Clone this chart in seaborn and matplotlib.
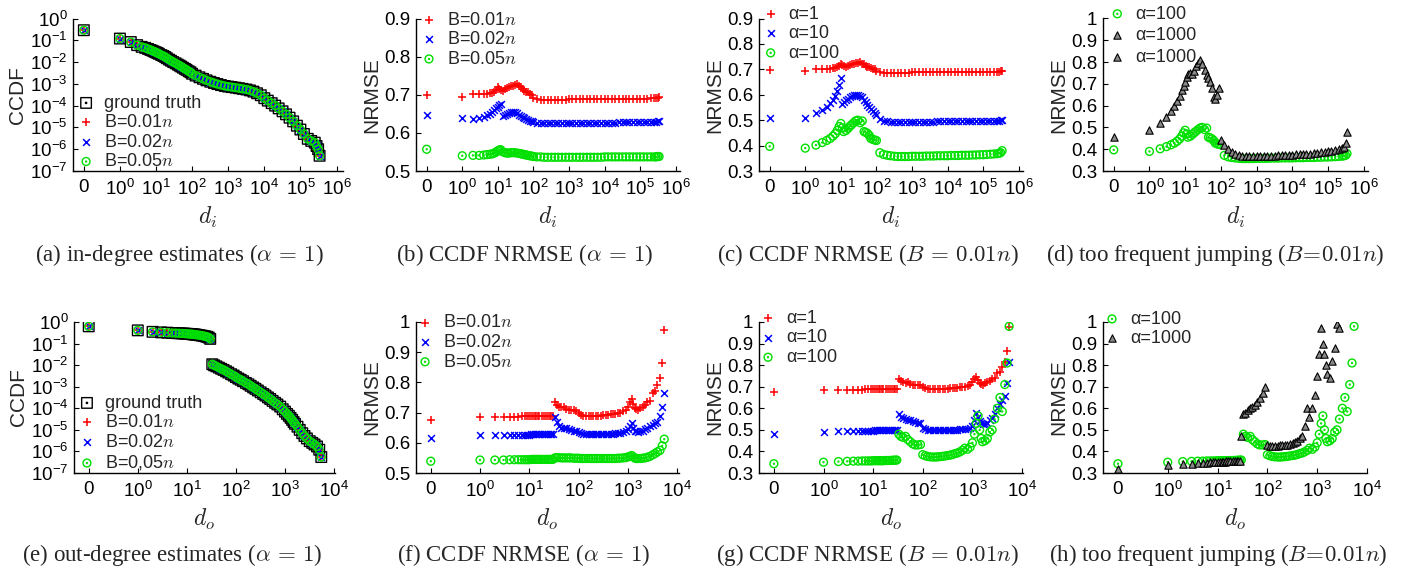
import numpy as np
import pandas as pd
import matplotlib
matplotlib.use("Agg")
import matplotlib.pyplot as plt
import seaborn as sns
from matplotlib.path import Path
from matplotlib.ticker import FixedLocator, FixedFormatter, NullLocator

# ---------------- data ----------------
deg_in = [0, 1, 2, 3, 4, 5, 6, 7, 8, 9, 10,
          11, 12, 14, 16, 18, 20, 23, 26, 30, 35, 40, 45, 50, 56, 63, 70, 80, 90, 100,
          125, 160, 200, 250, 320, 400, 500, 630, 800, 1000,
          1250, 1600, 2000, 2500, 3200, 4000, 5000, 6300, 8000, 10000,
          12500, 16000, 20000, 25000, 32000, 40000, 50000, 63000, 80000, 100000,
          125000, 160000, 200000, 250000, 280000, 310000, 340000]

ccdf_in_truth = [0.29, 0.12, 0.083, 0.06, 0.05, 0.045, 0.04, 0.036, 0.033, 0.03, 0.028,
                 0.026, 0.024, 0.021, 0.019, 0.017, 0.015, 0.013, 0.0115, 0.010, 0.0088, 0.0077, 0.0069, 0.0062, 0.0055, 0.0049, 0.0044, 0.0038, 0.0034, 0.0029,
                 0.0024, 0.0020, 0.0017, 0.00145, 0.00125, 0.0011, 0.00098, 0.00088, 0.0008, 0.00075,
                 0.00071, 0.00067, 0.00063, 0.00059, 0.00055, 0.0005, 0.00044, 0.00037, 0.0003, 0.00022,
                 0.00017, 0.00013, 1.0e-4, 7.5e-5, 5.5e-5, 4.0e-5, 2.8e-5, 1.9e-5, 1.2e-5, 8.0e-6,
                 5.0e-6, 3.0e-6, 2.4e-6, 2.0e-6, 1.4e-6, 1.0e-6, 5.0e-7]

nrmse_in_b001 = [0.699, 0.693, 0.702, 0.702, 0.703, 0.703, 0.704, 0.705, 0.708, 0.712, 0.720,
                 0.716, 0.712, 0.710, 0.714, 0.717, 0.720, 0.722, 0.724, 0.726, 0.728, 0.722, 0.720, 0.715, 0.710, 0.708, 0.706, 0.703, 0.700, 0.692,
                 0.688, 0.686, 0.686, 0.686, 0.686, 0.687, 0.687, 0.687, 0.687, 0.688,
                 0.688, 0.688, 0.688, 0.688, 0.688, 0.688, 0.689, 0.689, 0.689, 0.689,
                 0.689, 0.689, 0.689, 0.689, 0.690, 0.690, 0.690, 0.690, 0.690, 0.690,
                 0.690, 0.690, 0.691, 0.691, 0.691, 0.692, 0.693]

nrmse_in_b002 = [0.648, 0.640, 0.637, 0.638, 0.642, 0.646, 0.650, 0.655, 0.660, 0.665, 0.668,
                 0.672, 0.676, 0.645, 0.648, 0.650, 0.652, 0.654, 0.655, 0.655, 0.652, 0.648, 0.645, 0.642, 0.638, 0.636, 0.634, 0.632, 0.630, 0.628,
                 0.627, 0.627, 0.626, 0.626, 0.626, 0.626, 0.626, 0.626, 0.627, 0.627,
                 0.627, 0.627, 0.627, 0.627, 0.627, 0.627, 0.627, 0.627, 0.627, 0.627,
                 0.627, 0.627, 0.627, 0.628, 0.628, 0.628, 0.628, 0.628, 0.628, 0.628,
                 0.628, 0.628, 0.629, 0.629, 0.629, 0.630, 0.631]

nrmse_in_b005 = [0.557, 0.540, 0.541, 0.541, 0.542, 0.543, 0.544, 0.545, 0.547, 0.550, 0.553,
                 0.555, 0.556, 0.550, 0.548, 0.547, 0.547, 0.548, 0.548, 0.548, 0.547, 0.546, 0.545, 0.544, 0.543, 0.542, 0.541, 0.540, 0.539, 0.538,
                 0.537, 0.537, 0.536, 0.536, 0.536, 0.536, 0.536, 0.536, 0.536, 0.536,
                 0.536, 0.536, 0.536, 0.536, 0.536, 0.536, 0.536, 0.536, 0.536, 0.537,
                 0.537, 0.537, 0.537, 0.537, 0.537, 0.537, 0.537, 0.537, 0.537, 0.537,
                 0.537, 0.537, 0.537, 0.537, 0.537, 0.538, 0.538]

nrmse_in_a10 = [0.510, 0.510, 0.528, 0.540, 0.553, 0.567, 0.580, 0.595, 0.615, 0.640, 0.665,
                0.565, 0.570, 0.578, 0.585, 0.590, 0.595, 0.598, 0.600, 0.598, 0.595, 0.590, 0.580, 0.570, 0.560, 0.553, 0.545, 0.535, 0.530, 0.520,
                0.505, 0.498, 0.495, 0.494, 0.494, 0.494, 0.494, 0.494, 0.494, 0.494,
                0.494, 0.494, 0.494, 0.494, 0.494, 0.494, 0.495, 0.495, 0.495, 0.495,
                0.495, 0.495, 0.495, 0.495, 0.495, 0.496, 0.496, 0.496, 0.496, 0.496,
                0.496, 0.497, 0.497, 0.497, 0.498, 0.499, 0.500]

nrmse_in_a100 = [0.397, 0.390, 0.402, 0.412, 0.420, 0.428, 0.437, 0.447, 0.460, 0.475, 0.487,
                 0.470, 0.455, 0.460, 0.468, 0.476, 0.482, 0.490, 0.497, 0.500, 0.490, 0.497, 0.455, 0.452, 0.448, 0.440, 0.428, 0.424, 0.422, 0.420,
                 0.372, 0.365, 0.362, 0.360, 0.358, 0.357, 0.357, 0.357, 0.357, 0.358,
                 0.358, 0.358, 0.358, 0.359, 0.359, 0.359, 0.360, 0.360, 0.360, 0.360,
                 0.361, 0.361, 0.361, 0.362, 0.362, 0.362, 0.363, 0.363, 0.364, 0.364,
                 0.365, 0.366, 0.367, 0.368, 0.370, 0.372, 0.380]

nrmse_in_a1000 = [0.455, 0.490, 0.520, 0.550, 0.575, 0.600, 0.620, 0.645, 0.670, 0.690, 0.710,
                  0.730, 0.745, 0.750, 0.745, 0.760, 0.780, 0.795, 0.810, 0.790, 0.765, 0.740, 0.725, 0.710, 0.680, 0.640, 0.630, 0.650, 0.680, 0.440,
                  0.420, 0.400, 0.385, 0.378, 0.372, 0.370, 0.368, 0.368, 0.368, 0.368,
                  0.369, 0.369, 0.370, 0.370, 0.371, 0.372, 0.372, 0.373, 0.374, 0.375,
                  0.376, 0.377, 0.378, 0.379, 0.380, 0.382, 0.384, 0.386, 0.388, 0.390,
                  0.392, 0.395, 0.400, 0.405, 0.410, 0.430, 0.480]

deg_out = [0, 1, 2, 3, 4, 5, 6, 7, 8, 9, 10, 11, 12, 13, 14, 15, 16, 18, 20, 22, 24, 26, 28, 30,
           33, 36, 40, 45, 50, 56, 63, 70, 80, 90, 100,
           112, 125, 140, 160, 180, 200, 225, 250, 280, 320, 360, 400, 450, 500, 560, 630, 700, 800, 900, 1000,
           1100, 1200, 1300, 1400, 1500, 1600, 1800, 2000, 2250, 2500, 2800, 3200, 3600, 4000, 4500, 5000, 5500]

ccdf_out_truth = [0.63, 0.41, 0.35, 0.33, 0.32, 0.31, 0.305, 0.30, 0.295, 0.29, 0.285, 0.28, 0.275, 0.27, 0.265, 0.26, 0.255, 0.245, 0.235, 0.225, 0.215, 0.205, 0.19, 0.165,
                  0.011, 0.0098, 0.0088, 0.0077, 0.0068, 0.006, 0.0052, 0.0045, 0.0038, 0.0033, 0.0028,
                  0.0024, 0.0021, 0.0018, 0.0015, 0.0013, 0.0011, 0.00093, 0.0008, 0.00067, 0.00055, 0.00046, 0.00039, 0.00032, 0.00027, 0.00022, 0.00018, 0.00015, 0.00012, 9.0e-5, 7.0e-5,
                  5.5e-5, 4.5e-5, 3.6e-5, 2.9e-5, 2.3e-5, 1.9e-5, 1.4e-5, 1.0e-5, 7.0e-6, 5.2e-6, 4.0e-6, 3.0e-6, 2.5e-6, 2.1e-6, 1.7e-6, 1.2e-6, 5.5e-7]

nrmse_out_b001 = [0.675, 0.685, 0.686, 0.686, 0.687, 0.687, 0.687, 0.688, 0.688, 0.688, 0.688, 0.688, 0.688, 0.688, 0.688, 0.688, 0.688, 0.688, 0.688, 0.688, 0.688, 0.688, 0.688, 0.689,
                  0.735, 0.725, 0.720, 0.718, 0.720, 0.712, 0.710, 0.710, 0.708, 0.706, 0.700,
                  0.692, 0.690, 0.689, 0.689, 0.689, 0.690, 0.690, 0.690, 0.690, 0.691, 0.692, 0.693, 0.694, 0.695, 0.697, 0.699, 0.700, 0.705, 0.710, 0.720,
                  0.735, 0.745, 0.730, 0.715, 0.712, 0.710, 0.715, 0.720, 0.725, 0.735, 0.740, 0.765, 0.770, 0.790, 0.815, 0.865, 0.975]

nrmse_out_b002 = [0.617, 0.625, 0.625, 0.626, 0.626, 0.626, 0.627, 0.627, 0.627, 0.627, 0.627, 0.628, 0.628, 0.628, 0.628, 0.628, 0.628, 0.628, 0.628, 0.628, 0.628, 0.628, 0.628, 0.629,
                  0.685, 0.670, 0.655, 0.650, 0.650, 0.648, 0.645, 0.642, 0.640, 0.638, 0.635,
                  0.632, 0.630, 0.630, 0.630, 0.630, 0.630, 0.630, 0.630, 0.630, 0.630, 0.630, 0.630, 0.630, 0.630, 0.631, 0.632, 0.633, 0.635, 0.640, 0.645,
                  0.655, 0.665, 0.650, 0.640, 0.638, 0.637, 0.638, 0.640, 0.645, 0.650, 0.655, 0.660, 0.665, 0.670, 0.690, 0.720, 0.765]

nrmse_out_b005 = [0.539, 0.543, 0.543, 0.543, 0.544, 0.544, 0.544, 0.544, 0.544, 0.544, 0.544, 0.545, 0.545, 0.545, 0.545, 0.545, 0.545, 0.545, 0.545, 0.545, 0.545, 0.545, 0.545, 0.545,
                  0.550, 0.551, 0.551, 0.550, 0.550, 0.550, 0.550, 0.550, 0.549, 0.549, 0.549,
                  0.548, 0.548, 0.548, 0.548, 0.548, 0.548, 0.548, 0.548, 0.548, 0.548, 0.548, 0.548, 0.548, 0.548, 0.548, 0.549, 0.549, 0.550, 0.551, 0.553,
                  0.555, 0.558, 0.553, 0.549, 0.548, 0.548, 0.548, 0.549, 0.550, 0.552, 0.555, 0.560, 0.565, 0.570, 0.575, 0.590, 0.612]

nrmse_out_a10 = [0.483, 0.490, 0.493, 0.495, 0.496, 0.496, 0.497, 0.497, 0.497, 0.497, 0.497, 0.498, 0.498, 0.498, 0.498, 0.498, 0.498, 0.499, 0.499, 0.499, 0.499, 0.500, 0.500, 0.500,
                 0.575, 0.560, 0.555, 0.550, 0.548, 0.545, 0.540, 0.535, 0.532, 0.530, 0.510,
                 0.505, 0.500, 0.500, 0.500, 0.500, 0.500, 0.500, 0.500, 0.500, 0.500, 0.500, 0.500, 0.500, 0.500, 0.503, 0.503, 0.503, 0.503, 0.508, 0.520,
                 0.545, 0.580, 0.560, 0.540, 0.530, 0.525, 0.525, 0.530, 0.545, 0.555, 0.575, 0.600, 0.620, 0.640, 0.655, 0.715, 0.815]

nrmse_out_a100 = [0.343, 0.350, 0.353, 0.354, 0.355, 0.355, 0.356, 0.356, 0.356, 0.356, 0.357, 0.357, 0.357, 0.357, 0.357, 0.357, 0.357, 0.358, 0.358, 0.358, 0.359, 0.359, 0.360, 0.360,
                  0.480, 0.470, 0.465, 0.470, 0.455, 0.445, 0.435, 0.430, 0.430, 0.432, 0.385,
                  0.380, 0.377, 0.375, 0.374, 0.374, 0.375, 0.376, 0.377, 0.379, 0.381, 0.383, 0.386, 0.390, 0.393, 0.398, 0.405, 0.415, 0.410, 0.420, 0.440,
                  0.480, 0.530, 0.565, 0.500, 0.460, 0.445, 0.450, 0.460, 0.490, 0.500, 0.550, 0.600, 0.650, 0.585, 0.710, 0.810, 0.980]

nan = float("nan")
nrmse_out_a1000 = [0.320, 0.338, 0.342, 0.344, 0.346, 0.347, 0.348, 0.349, 0.350, 0.351, 0.352, 0.352, 0.353, 0.353, 0.353, 0.354, 0.354, 0.355, 0.355, 0.355, 0.355, 0.355, 0.355, 0.470,
                   0.575, 0.580, 0.590, 0.600, 0.605, 0.615, 0.630, 0.650, 0.670, 0.700, 0.430,
                   0.425, 0.425, 0.426, 0.427, 0.428, 0.429, 0.430, 0.432, 0.435, 0.440, 0.445, 0.450, 0.460, 0.470, 0.520, 0.600, 0.560, 0.600, 0.660, 0.750,
                   0.850, 0.970, 0.900, 0.850, 0.800, 0.760, 0.740, 0.820, 0.880, 0.990, 0.970, nan, nan, nan, nan, nan, nan]

captions = ["(a) in-degree estimates ($\\alpha\\,=\\,1$)",
            "(b) CCDF NRMSE ($\\alpha\\,=\\,1$)",
            "(c) CCDF NRMSE ($B\\,=\\,0.01n$)",
            "(d) too frequent jumping ($B\\!=\\!0.01n$)",
            "(e) out-degree estimates ($\\alpha\\,=\\,1$)",
            "(f) CCDF NRMSE ($\\alpha\\,=\\,1$)",
            "(g) CCDF NRMSE ($B\\,=\\,0.01n$)",
            "(h) too frequent jumping ($B\\!=\\!0.01n$)"]

# ---------------- style ----------------
sns.set_theme(style="ticks")
plt.rcParams["font.family"] = ["Liberation Sans", "DejaVu Sans"]
plt.rcParams["mathtext.fontset"] = "cm"

RED, BLUE, GREEN = "#ff0000", "#0000ff", "#00e000"

circ = Path.unit_circle()
odot = Path.make_compound_path(circ, Path.circle((0, 0), 0.12))
sq = Path([(-1, -1), (1, -1), (1, 1), (-1, 1), (-1, -1)],
          [Path.MOVETO, Path.LINETO, Path.LINETO, Path.LINETO, Path.CLOSEPOLY])
sqdot = Path.make_compound_path(sq, Path.circle((0, 0), 0.12))

ST_TRUTH = dict(marker=sqdot, s=58, color="black", facecolor="none", edgecolor="black", linewidth=1.0)
ST_RED = dict(marker="+", s=34, color=RED, linewidth=1.1)
ST_BLUE = dict(marker="x", s=24, color=BLUE, linewidth=1.1)
ST_GREEN = dict(marker=odot, s=32, color=GREEN, facecolor="none", edgecolor=GREEN, linewidth=1.0)
ST_BLACK = dict(marker="^", s=28, color="black", facecolor="#8a8a8a", edgecolor="black", linewidth=0.8)

W, H = 1409, 576
fig = plt.figure(figsize=(W / 100, H / 100), dpi=100)


def add_ax(l, r, top, bottom):
    return fig.add_axes([l / W, 1 - bottom / H, (r - l) / W, (bottom - top) / H])


def setup_x(ax, maxexp, right, xlabel):
    ax.set_xscale("symlog", linthresh=1, linscale=0.9)
    ticks = [0] + [10 ** k for k in range(maxexp + 1)]
    labels = ["0"] + [r"$\mathregular{10^{%d}}$" % k for k in range(maxexp + 1)]
    ax.xaxis.set_major_locator(FixedLocator(ticks))
    ax.xaxis.set_major_formatter(FixedFormatter(labels))
    ax.xaxis.set_minor_locator(NullLocator())
    ax.set_xlim(-0.3, right)
    ax.set_xlabel(xlabel, fontsize=17, labelpad=4)


def setup_common(ax, ylabel):
    sns.despine(ax=ax)
    for s in ("left", "bottom"):
        ax.spines[s].set_linewidth(1.0)
        ax.spines[s].set_color("black")
    ax.tick_params(axis="both", direction="in", length=3.5, width=0.8, labelsize=13.5, colors="black")
    ax.tick_params(axis="x", pad=6)
    ax.tick_params(axis="y", pad=4)
    ax.set_ylabel(ylabel, fontsize=15, labelpad=2)


def setup_log_y(ax):
    ax.set_yscale("log")
    yt = [10.0 ** k for k in range(-7, 1)]
    ax.yaxis.set_major_locator(FixedLocator(yt))
    ax.yaxis.set_major_formatter(FixedFormatter([r"$\mathregular{10^{%d}}$" % k for k in range(-7, 1)]))
    ax.yaxis.set_minor_locator(NullLocator())
    ax.set_ylim(1e-7, 1.0)


def setup_lin_y(ax, lo, hi, labels):
    vals = [float(v) for v in labels]
    ax.yaxis.set_major_locator(FixedLocator(vals))
    ax.yaxis.set_major_formatter(FixedFormatter(labels))
    ax.set_ylim(lo, hi)


def sc(ax, x, y, st):
    sns.scatterplot(x=x, y=y, ax=ax, legend=False, **st)


def leg(ax, handles, labels, loc, anchor, spacing=0.14):
    ax.legend(handles=handles, labels=labels, loc=loc, bbox_to_anchor=anchor, frameon=False,
              fontsize=13, handlelength=1.0, handletextpad=0.5, labelspacing=spacing,
              borderaxespad=0, borderpad=0, scatterpoints=1)


ROW1 = (18.5, 171)
ROW2 = (322, 473)

# (a)
ax = add_ax(73, 343, *ROW1)
sc(ax, deg_in, ccdf_in_truth, ST_TRUTH)
sc(ax, deg_in, ccdf_in_truth, ST_RED)
sc(ax, deg_in, ccdf_in_truth, ST_BLUE)
sc(ax, deg_in, ccdf_in_truth, ST_GREEN)
setup_common(ax, "CCDF")
setup_log_y(ax)
setup_x(ax, 6, 10 ** 6.18, r"$d_i$")
leg(ax, list(ax.collections[:4]), ["ground truth", "B=0.01$n$", "B=0.02$n$", "B=0.05$n$"],
    "lower left", (0.015, 0.005))

# (b)
ax = add_ax(416, 680, *ROW1)
sc(ax, deg_in, nrmse_in_b001, ST_RED)
sc(ax, deg_in, nrmse_in_b002, ST_BLUE)
sc(ax, deg_in, nrmse_in_b005, ST_GREEN)
setup_common(ax, "NRMSE")
setup_lin_y(ax, 0.5, 0.9, ["0.5", "0.6", "0.7", "0.8", "0.9"])
setup_x(ax, 6, 10 ** 6.12, r"$d_i$")
leg(ax, list(ax.collections[:3]), ["B=0.01$n$", "B=0.02$n$", "B=0.05$n$"], "upper left", (0.015, 1.045))

# (c)
ax = add_ax(759, 1023, *ROW1)
sc(ax, deg_in, nrmse_in_b001, ST_RED)
sc(ax, deg_in, nrmse_in_a10, ST_BLUE)
sc(ax, deg_in, nrmse_in_a100, ST_GREEN)
setup_common(ax, "NRMSE")
setup_lin_y(ax, 0.3, 0.9, ["0.3", "0.4", "0.5", "0.6", "0.7", "0.8", "0.9"])
setup_x(ax, 6, 10 ** 6.12, r"$d_i$")
leg(ax, list(ax.collections[:3]), ["α=1", "α=10", "α=100"], "upper left", (0.01, 1.085))

# (d)
ax = add_ax(1103, 1368, *ROW1)
sc(ax, deg_in, nrmse_in_a100, ST_GREEN)
sc(ax, deg_in, nrmse_in_a1000, ST_BLACK)
setup_common(ax, "NRMSE")
setup_lin_y(ax, 0.3, 1.0, ["0.3", "0.4", "0.5", "0.6", "0.7", "0.8", "0.9", "1"])
setup_x(ax, 6, 10 ** 6.12, r"$d_i$")
hh = list(ax.collections[:2])
leg(ax, [hh[0], hh[1], hh[1]], ["α=100", "α=1000", "α=1000"], "upper left", (0.02, 1.085), spacing=0.26)

# (e)
ax = add_ax(74, 335, *ROW2)
sc(ax, deg_out, ccdf_out_truth, ST_TRUTH)
sc(ax, deg_out, ccdf_out_truth, ST_RED)
sc(ax, deg_out, ccdf_out_truth, ST_BLUE)
sc(ax, deg_out, ccdf_out_truth, ST_GREEN)
setup_common(ax, "CCDF")
setup_log_y(ax)
setup_x(ax, 4, 10 ** 4.02, r"$d_o$")
leg(ax, list(ax.collections[:4]), ["ground truth", "B=0.01$n$", "B=0.02$n$", "B=0,05$n$"],
    "lower left", (0.015, 0.005))

# (f)
ax = add_ax(416, 679, *ROW2)
sc(ax, deg_out, nrmse_out_b001, ST_RED)
sc(ax, deg_out, nrmse_out_b002, ST_BLUE)
sc(ax, deg_out, nrmse_out_b005, ST_GREEN)
setup_common(ax, "NRMSE")
setup_lin_y(ax, 0.5, 1.0, ["0.5", "0.6", "0.7", "0.8", "0.9", "1"])
setup_x(ax, 4, 10 ** 4.04, r"$d_o$")
leg(ax, list(ax.collections[:3]), ["B=0.01$n$", "B=0.02$n$", "B=0.05$n$"], "upper left", (0.0, 1.05))

# (g)
ax = add_ax(759, 1023, *ROW2)
sc(ax, deg_out, nrmse_out_b001, ST_RED)
sc(ax, deg_out, nrmse_out_a10, ST_BLUE)
sc(ax, deg_out, nrmse_out_a100, ST_GREEN)
setup_common(ax, "NRMSE")
setup_lin_y(ax, 0.3, 1.0, ["0.3", "0.4", "0.5", "0.6", "0.7", "0.8", "0.9", "1"])
setup_x(ax, 4, 10 ** 4.02, r"$d_o$")
leg(ax, list(ax.collections[:3]), ["α=1", "α=10", "α=100"], "upper left", (0.0, 1.08))

# (h)
ax = add_ax(1103, 1367, *ROW2)
sc(ax, deg_out, nrmse_out_a100, ST_GREEN)
sc(ax, deg_out, nrmse_out_a1000, ST_BLACK)
setup_common(ax, "NRMSE")
setup_lin_y(ax, 0.3, 1.0, ["0.3", "0.4", "0.5", "0.6", "0.7", "0.8", "0.9", "1"])
setup_x(ax, 4, 10 ** 4.0, r"$d_o$")
leg(ax, list(ax.collections[:2]), ["α=100", "α=1000"], "upper left", (0.0, 1.075))

# captions
cap_pos = [(179, 255), (525, 255), (868, 255), (1215, 255),
           (172, 555), (524, 555), (868, 555), (1218, 555)]
for (cx, cy), txt in zip(cap_pos, captions):
    fig.text(cx / W, 1 - cy / H, txt, ha="center", va="center", fontsize=16.5,
             family=["Liberation Serif", "DejaVu Serif"])

fig.savefig("out.png", dpi=100)
